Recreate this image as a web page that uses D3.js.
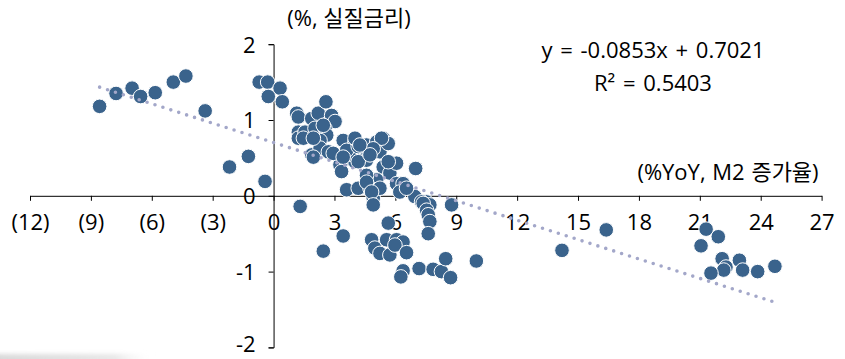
<!DOCTYPE html>
<html>
<head>
<meta charset="utf-8">
<script src="https://cdn.jsdelivr.net/npm/d3@7"></script>
<style>
  html, body { margin: 0; padding: 0; background: #fff; }
  svg { display: block; }
  text { font-family: "Open Sans", "Noto Sans CJK KR", sans-serif; fill: #000; }
</style>
</head>
<body>
<svg id="chart" width="845" height="359"></svg>
<script>
// M2 growth (%YoY) vs. real interest rate (%)
const m2Growth = [
  -8.57, -7.76, -6.97, -6.55, -5.83, -4.94, -4.32, -3.37, -2.17, -1.24,
  -0.42, -0.71, -0.29, 0.32, -0.26, 0.43, 1.14, 1.22, 1.22, 1.22,
  1.88, 2.20, 2.58, 2.86, 3.03, 1.55, 1.47, 2.04, 2.53, 2.62,
  2.29, 1.88, 2.29, 2.70, 3.43, 3.43, 3.27, 4.01, 4.09, 4.01,
  4.58, 4.58, 5.08, 5.24, 5.40, 5.65, 5.40, 5.73, 5.08, 4.58,
  3.60, 4.17, 4.75, 4.91, 5.24, 6.06, 6.38, 6.22, 6.96, 7.53,
  6.06, 7.00, 2.94, 3.35, 3.76, 4.17, 5.32, 4.91, 5.65, 4.58,
  4.83, 4.91, 6.55, 7.29, 7.70, 8.77, 7.37, 7.54, 7.62, 7.70,
  7.62, 5.65, 1.31, 2.45, 3.43, 4.83, 4.99, 5.24, 5.73, 5.57,
  6.06, 6.38, 5.98, 6.55, 6.38, 6.27, 7.17, 7.86, 8.27, 8.48,
  8.72, 9.99, 14.21, 16.39, 21.31, 21.91, 21.06, 22.10, 22.29, 22.18,
  22.95, 21.55, 23.11, 23.85, 24.70, 1.96, 2.45, 3.60, 4.17, 4.75,
  1.96, 4.01, 4.25, 3.43
];
const realRate = [
  1.18, 1.35, 1.42, 1.31, 1.36, 1.50, 1.58, 1.12, 0.38, 0.52,
  0.19, 1.50, 1.50, 1.42, 1.31, 1.24, 1.09, 1.04, 0.84, 0.76,
  1.02, 1.09, 1.24, 1.06, 0.98, 0.84, 0.76, 0.89, 0.89, 0.80,
  0.73, 0.54, 0.63, 0.58, 0.73, 0.47, 0.41, 0.71, 0.56, 0.45,
  0.67, 0.47, 0.71, 0.58, 0.76, 0.69, 0.38, 0.30, 0.21, 0.27,
  0.08, 0.10, 0.10, -0.03, 0.10, 0.16, 0.16, 0.05, -0.01, -0.08,
  0.43, 0.36, 0.56, 0.32, 0.55, 0.45, 0.76, 0.62, 0.45, 0.18,
  0.05, -0.12, 0.10, -0.08, -0.12, -0.12, -0.10, -0.19, -0.25, -0.34,
  -0.50, -0.36, -0.14, -0.73, -0.53, -0.58, -0.69, -0.76, -0.78, -0.58,
  -0.58, -0.61, -0.65, -0.75, -0.99, -1.07, -0.96, -0.97, -1.00, -0.83,
  -1.08, -0.86, -0.72, -0.45, -0.44, -0.54, -0.66, -0.83, -0.94, -0.98,
  -0.85, -1.02, -0.98, -1.00, -0.93, 0.76, 0.93, 0.60, 0.65, 0.54,
  0.51, 0.76, 0.67, 0.51
];

const xTicks = [-12, -9, -6, -3, 0, 3, 6, 9, 12, 15, 18, 21, 24, 27];
const yTicks = [-2, -1, 0, 1, 2];

// Linear trend: y = -0.0853x + 0.7021, R² = 0.5403
const trendSlope = -0.0853;
const trendIntercept = 0.7021;
const trendR2 = 0.5403;

const yTitle = "(%, 실질금리)";
const xTitle = "(%YoY, M2 증가율)";

const svg = d3.select("#chart");

const x = d3.scaleLinear().domain([-12, 27]).range([30, 821.6]);
const y = d3.scaleLinear().domain([-2, 2]).range([347.4, 44.2]);

// faint shadow strip along the lower-left edge
const defs = svg.append("defs");
const grad = defs.append("linearGradient").attr("id", "shade").attr("x1", 0).attr("x2", 1);
grad.append("stop").attr("offset", 0).attr("stop-color", "#cfcfcf").attr("stop-opacity", 0.8);
grad.append("stop").attr("offset", 0.75).attr("stop-color", "#d8d8d8").attr("stop-opacity", 0.6);
grad.append("stop").attr("offset", 1).attr("stop-color", "#ffffff").attr("stop-opacity", 0);
const blur = defs.append("filter").attr("id", "soft").attr("x", "-10%").attr("y", "-50%").attr("width", "120%").attr("height", "200%");
blur.append("feGaussianBlur").attr("stdDeviation", 2);
svg.append("rect").attr("x", -5).attr("y", 354).attr("width", 160).attr("height", 10)
  .attr("fill", "url(#shade)").attr("filter", "url(#soft)");

// x axis along y = 0
const xAxis = d3.axisBottom(x)
  .tickValues(xTicks)
  .tickSize(5)
  .tickSizeOuter(0)
  .tickFormat(d => d < 0 ? `(${-d})` : String(d));
const gx = svg.append("g").attr("transform", `translate(0,${y(0)})`).call(xAxis);
gx.selectAll("text").attr("y", 34).attr("dy", 0).style("font-size", "22px");

// y axis along x = 0
const yAxis = d3.axisLeft(y)
  .tickValues(yTicks)
  .tickSize(5)
  .tickSizeOuter(5)
  .tickFormat(d => String(d));
const gy = svg.append("g").attr("transform", `translate(${x(0)},0)`).call(yAxis);
gy.selectAll("text").attr("x", -18).attr("dy", "0.36em").style("font-size", "22px");
// keep the lowest label inside the frame
gy.selectAll(".tick").filter(d => d === -2).select("text").attr("dy", "0.2em");

svg.selectAll(".domain, .tick line").attr("stroke", "#000").attr("stroke-width", 1);
svg.selectAll(".tick text").attr("font-family", null);

// scatter points
const points = m2Growth.map((v, i) => ({ x: v, y: realRate[i] }));
svg.append("g").selectAll("circle")
  .data(points)
  .join("circle")
  .attr("cx", d => x(d.x))
  .attr("cy", d => y(d.y))
  .attr("r", 7.3)
  .attr("fill", "#3a638c")
  .attr("stroke", "#fff")
  .attr("stroke-width", 1);

// dotted trend line across the data range
const [xMin, xMax] = d3.extent(m2Growth);
svg.append("line")
  .attr("x1", x(xMin)).attr("y1", y(trendSlope * xMin + trendIntercept))
  .attr("x2", x(xMax)).attr("y2", y(trendSlope * xMax + trendIntercept))
  .attr("stroke", "#a3a7c9")
  .attr("stroke-width", 3.6)
  .attr("stroke-linecap", "round")
  .attr("stroke-dasharray", "0 8.3");

// titles and trend equation
svg.append("text").attr("x", 349).attr("y", 26).attr("text-anchor", "middle")
  .style("font-size", "22px").text(yTitle);
svg.append("text").attr("x", 728).attr("y", 180).attr("text-anchor", "middle")
  .style("font-size", "22px").style("word-spacing", "1px").text(xTitle);
svg.append("text").attr("x", 653).attr("y", 58).attr("text-anchor", "middle")
  .style("font-size", "22px").style("word-spacing", "2px")
  .text(`y = ${trendSlope}x + ${trendIntercept}`);
svg.append("text").attr("x", 653).attr("y", 90.5).attr("text-anchor", "middle")
  .style("font-size", "22px").style("word-spacing", "2px")
  .text(`R² = ${trendR2}`);
</script>
</body>
</html>
